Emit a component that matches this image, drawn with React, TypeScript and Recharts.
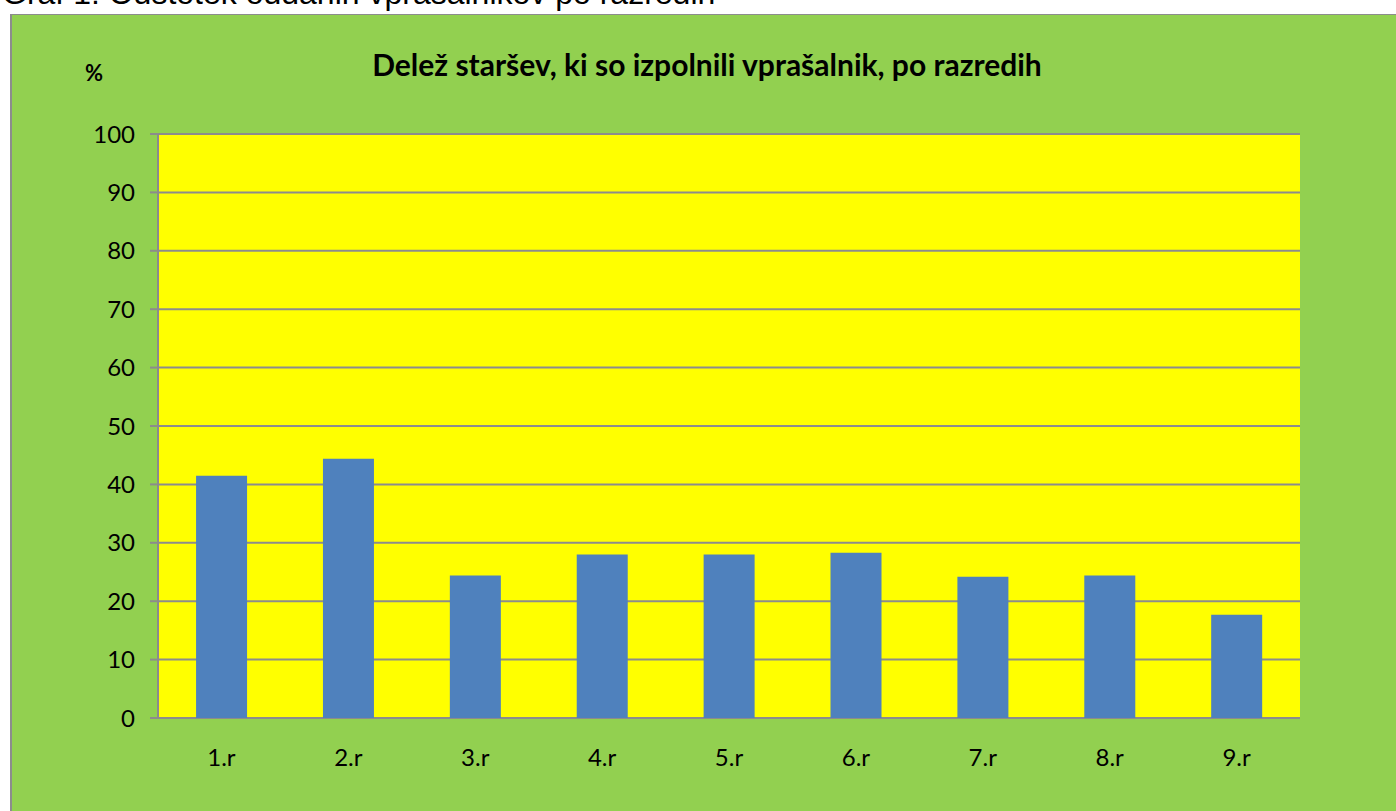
import { BarChart, Bar, XAxis, YAxis, CartesianGrid } from "recharts"

// razredi in delež staršev (%)
const RAZREDI = ["1.r", "2.r", "3.r", "4.r", "5.r", "6.r", "7.r", "8.r", "9.r"]
const DELEZ = [41.5, 44.4, 24.4, 28.0, 28.0, 28.3, 24.2, 24.4, 17.7]
const Y_TICKS = [0, 10, 20, 30, 40, 50, 60, 70, 80, 90, 100]
const MEJE = [0, 1, 2, 3, 4, 5, 6, 7, 8, 9]

const data = RAZREDI.map((r, i) => ({ razred: r, delez: DELEZ[i], idx: i + 0.5 }))

const FONT = "Lato, 'Open Sans', sans-serif"

export default function App() {
  return (
    <div style={{ position: "absolute", left: 0, top: 0, width: 1396, height: 811, overflow: "hidden", background: "#fff" }}>
      {/* naslov nad grafom, zgoraj odrezan */}
      <div style={{ position: "absolute", left: 2, top: -25, fontFamily: "'Liberation Sans', Arial, sans-serif", fontSize: 32, color: "#000", whiteSpace: "nowrap" }}>
        Graf 1: Odstotek oddanih vprašalnikov po razredih
      </div>
      <div style={{ position: "absolute", left: 10, top: 14, width: 1390, height: 800, background: "#92d050", borderLeft: "2px solid #8c8c8c", borderTop: "1px solid #8c8c8c" }}>
        <div style={{ position: "absolute", left: 0, width: 1390, top: 31, textAlign: "center", fontFamily: FONT, fontWeight: 700, fontSize: 30, whiteSpace: "nowrap" }}>
          Delež staršev, ki so izpolnili vprašalnik, po razredih
        </div>
        <div style={{ position: "absolute", left: 73, top: 44, fontFamily: FONT, fontWeight: 700, fontSize: 22 }}>%</div>
        <BarChart width={1386} height={797} data={data} margin={{ top: 119, right: 98, left: 0, bottom: 0 }} barCategoryGap="30%">
          <CartesianGrid vertical={false} stroke="#8c8c8c" strokeWidth={2} fill="#ffff00" />
          <YAxis
            type="number"
            domain={[0, 100]}
            ticks={Y_TICKS}
            width={146}
            stroke="#8c8c8c"
            strokeWidth={2}
            tickSize={8}
            tickMargin={15}
            tick={{ fill: "#000", fontSize: 24, fontFamily: FONT }}
          />
          <XAxis
            xAxisId="meje"
            type="number"
            dataKey="idx"
            domain={[0, 9]}
            ticks={MEJE}
            height={0}
            stroke="#8c8c8c"
            strokeWidth={2}
            tickSize={8}
            tickFormatter={() => ""}
          />
          <XAxis
            dataKey="razred"
            height={94}
            axisLine={false}
            tickLine={false}
            tickSize={0}
            tickMargin={31}
            tick={{ fill: "#000", fontSize: 24, fontFamily: FONT }}
          />
          <Bar dataKey="delez" fill="#4f81bd" isAnimationActive={false} />
        </BarChart>
      </div>
    </div>
  )
}
